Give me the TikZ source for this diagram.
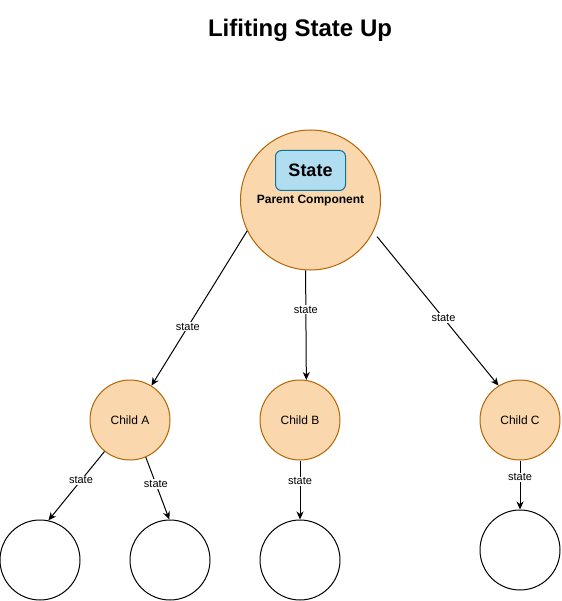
\documentclass[tikz,border=0pt]{standalone}
\usepackage{fontspec}
\setmainfont{Liberation Sans}
\usetikzlibrary{arrows.meta}
\definecolor{orfill}{HTML}{FAD7AC}
\definecolor{orline}{HTML}{B46504}
\definecolor{blfill}{HTML}{B1DDF0}
\definecolor{blline}{HTML}{10739E}
\tikzset{
  parentnode/.style={circle, draw=orline, fill=orfill, line width=1pt, minimum size=140pt, inner sep=0pt},
  childnode/.style={circle, draw=orline, fill=orfill, line width=1pt, minimum size=80pt, inner sep=0pt, font=\fontsize{12pt}{14pt}\selectfont},
  leafnode/.style={circle, draw=black, fill=white, line width=1pt, minimum size=80pt, inner sep=0pt},
  statebox/.style={rectangle, rounded corners=6pt, draw=blline, fill=blfill, line width=1pt, minimum width=70pt, minimum height=40pt, inner sep=0pt, font=\bfseries\fontsize{18pt}{20pt}\selectfont},
  conn/.style={draw=black, line width=1pt, -{Stealth[length=8pt,width=7pt,inset=2.5pt]}},
  lbl/.style={fill=white, inner sep=1pt, font=\fontsize{11pt}{13pt}\selectfont}
}
\begin{document}
\begin{tikzpicture}[x=1pt,y=-1pt]
\useasboundingbox (0,0) rectangle (561,601);
\node[font=\bfseries\fontsize{24pt}{28pt}\selectfont] (title) at (300,30) {Lifiting State Up};
\node[parentnode] (parent) at (310.5,200) {};
\node[statebox] (state) at (310.5,170.5) {State};
\node[font=\bfseries\fontsize{12pt}{14pt}\selectfont] (ptext) at (310.5,201) {Parent Component};
\node[childnode] (A) at (130,420) {Child A};
\node[childnode] (B) at (300,420) {Child B};
\node[childnode] (C) at (520,420) {Child C};
\node[leafnode] (L1) at (40,560) {};
\node[leafnode] (L2) at (170,560) {};
\node[leafnode] (L3) at (300,560) {};
\node[leafnode] (L4) at (520,550) {};
\draw[conn] (parent.206) -- node[lbl, pos=0.62] {state} (A.58);
\draw[conn] (parent.266.3) -- node[lbl, pos=0.36] {state} (B.81.8);
\draw[conn, shorten <=6pt] (parent.-27) -- node[lbl, pos=0.56] {state} (C.122);
\draw[conn] (A.231) -- node[lbl, pos=0.42] {state} (L1.78);
\draw[conn] (A.-67) -- node[lbl, pos=0.43] {state} (L2.91);
\draw[conn] (B.south) -- node[lbl, pos=0.35] {state} (L3.north);
\draw[conn] (C.south) -- node[lbl, pos=0.34] {state} (L4.north);
\end{tikzpicture}
\end{document}
